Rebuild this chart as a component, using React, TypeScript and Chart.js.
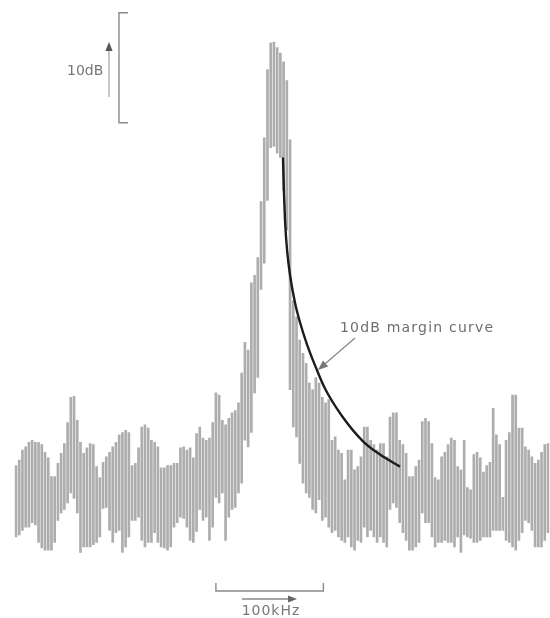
import React, { useEffect, useRef } from 'react';
import { Chart, registerables } from 'chart.js';

Chart.register(...registerables);

// Spectrum display: each vertical trace line spans [minLevel, maxLevel] in dB (0 dB = peak top)
const FREQ_STEP_KHZ = 3;
const PEAK_INDEX = 80;

const maxLevel = [
  -38.5, -38.0, -37.1, -36.8, -36.4, -36.2, -36.4, -36.4, -36.6, -37.3,
  -37.8, -39.5, -39.5, -38.3, -37.4, -36.5, -34.6, -32.3, -32.2, -34.4,
  -36.4, -37.4, -36.9, -36.5, -36.6, -38.6, -39.6, -38.2, -37.7, -37.3,
  -36.8, -36.4, -35.7, -35.5, -35.3, -35.5, -38.5, -38.3, -36.9, -35.0,
  -34.8, -35.1, -36.2, -36.4, -36.8, -38.7, -38.7, -38.5, -38.5, -38.3,
  -38.3, -36.9, -36.8, -37.1, -36.9, -37.8, -35.6, -35.0, -36.0, -36.2,
  -36.0, -34.6, -31.9, -32.1, -34.4, -34.8, -34.2, -33.7, -33.5, -32.8,
  -30.1, -27.3, -28.0, -21.9, -21.2, -19.6, -14.5, -8.7, -2.5, -0.1,
  0.0, -0.5, -1.0, -1.8, -3.5, -8.9, -23.5, -25.0, -27.1, -28.3,
  -29.2, -31.0, -31.6, -30.5, -31.0, -32.3, -32.8, -32.5, -36.2, -35.9,
  -37.1, -37.4, -39.8, -37.1, -37.1, -38.9, -38.6, -37.7, -35.0, -35.0,
  -36.2, -36.6, -37.1, -36.5, -36.5, -37.7, -34.1, -33.7, -33.7, -36.2,
  -36.6, -37.4, -39.5, -39.5, -38.6, -38.0, -34.5, -34.2, -34.5, -36.5,
  -39.6, -39.8, -37.7, -37.3, -36.6, -36.0, -36.2, -38.6, -38.9, -36.2,
  -40.5, -40.7, -37.5, -37.3, -37.8, -39.1, -38.5, -38.2, -33.3, -35.7,
  -36.6, -41.4, -36.2, -35.5, -32.1, -32.1, -35.1, -35.1, -36.8, -37.1,
  -37.7, -38.3, -38.0, -37.3, -36.6, -36.5
];

const minLevel = [
  -45.0, -44.8, -44.4, -44.1, -44.1, -43.7, -43.9, -45.5, -46.0, -46.2,
  -46.2, -46.2, -45.5, -43.5, -42.8, -42.5, -41.9, -41.0, -41.5, -42.8,
  -46.4, -45.9, -45.9, -45.9, -45.7, -45.5, -45.0, -42.4, -42.3, -44.4,
  -45.5, -44.6, -44.4, -46.4, -45.9, -45.0, -43.5, -43.5, -43.2, -45.3,
  -45.9, -45.5, -45.5, -44.6, -45.5, -45.9, -46.0, -46.2, -45.9, -44.1,
  -43.7, -43.2, -43.3, -44.1, -45.3, -45.5, -44.5, -42.5, -43.5, -43.2,
  -45.3, -44.1, -41.4, -41.9, -41.0, -45.3, -43.2, -42.5, -42.3, -41.0,
  -40.1, -36.2, -36.8, -35.5, -31.9, -30.5, -22.5, -20.1, -14.4, -9.6,
  -9.5, -10.1, -10.5, -13.5, -17.1, -31.6, -35.0, -35.9, -38.3, -40.1,
  -41.0, -41.4, -42.5, -42.8, -41.6, -43.5, -43.2, -44.1, -44.6, -44.4,
  -45.0, -45.3, -45.5, -45.0, -45.9, -46.2, -45.3, -45.5, -44.1, -45.0,
  -44.4, -45.0, -45.5, -45.0, -45.5, -45.9, -42.5, -41.9, -42.3, -43.7,
  -44.6, -45.3, -46.2, -46.2, -45.9, -45.5, -42.8, -43.7, -43.7, -45.0,
  -45.9, -45.5, -45.5, -45.3, -45.5, -45.5, -45.9, -45.0, -46.4, -44.8,
  -45.0, -45.1, -45.5, -45.5, -45.3, -45.0, -45.0, -45.0, -44.4, -44.4,
  -44.4, -44.4, -45.3, -45.5, -45.9, -46.2, -45.3, -44.6, -43.5, -43.7,
  -44.4, -45.9, -45.9, -45.9, -45.3, -44.6
];

// frequency offset of each trace line (kHz from carrier), evenly stepped like category labels
const frequencies = maxLevel.map((_, i) => (i - PEAK_INDEX) * FREQ_STEP_KHZ);

// 10 dB margin curve
const marginFreq = [8.4, 9.4, 10.3, 12.2, 15.0, 19.6, 24.3, 30.8, 39.1, 47.5, 63.3, 82.9, 98.7, 117.3];
const marginLevel = [-10.5, -13.9, -16.2, -18.9, -21.2, -23.7, -25.5, -27.5, -29.6, -31.5, -34.0, -36.3, -37.5, -38.6];

const X_MIN_KHZ = -241.5;
const X_MAX_KHZ = 256.5;
const Y_MIN_DB = -52.36;
const Y_MAX_DB = 3.82;
const SCALE_BAR_TOP_DB = 2.66;
const SCALE_BAR_DB = 10;
const SPAN_START_KHZ = -54;
const SPAN_KHZ = 100;

function arrow(ctx: CanvasRenderingContext2D, x1: number, y1: number, x2: number, y2: number, color: string, head: number, lineColor?: string) {
  const ang = Math.atan2(y2 - y1, x2 - x1);
  ctx.save();
  ctx.strokeStyle = lineColor || color;
  ctx.lineWidth = 1.3;
  ctx.beginPath();
  ctx.moveTo(x1, y1);
  ctx.lineTo(x2 - Math.cos(ang) * head * 0.6, y2 - Math.sin(ang) * head * 0.6);
  ctx.stroke();
  ctx.fillStyle = color;
  ctx.beginPath();
  ctx.moveTo(x2, y2);
  ctx.lineTo(x2 - head * Math.cos(ang) + (head * 0.4) * Math.sin(ang), y2 - head * Math.sin(ang) - (head * 0.4) * Math.cos(ang));
  ctx.lineTo(x2 - head * Math.cos(ang) - (head * 0.4) * Math.sin(ang), y2 - head * Math.sin(ang) + (head * 0.4) * Math.cos(ang));
  ctx.closePath();
  ctx.fill();
  ctx.restore();
}

const annotations = {
  id: 'annotations',
  afterDraw(chart: any) {
    const ctx: CanvasRenderingContext2D = chart.ctx;
    const y = chart.scales.y;
    const x = chart.scales.x;
    ctx.save();
    // 10 dB scale bracket
    const yt = y.getPixelForValue(SCALE_BAR_TOP_DB);
    const yb = y.getPixelForValue(SCALE_BAR_TOP_DB - SCALE_BAR_DB);
    ctx.strokeStyle = '#8a8a8a';
    ctx.lineWidth = 1.4;
    ctx.beginPath();
    ctx.moveTo(128, yt);
    ctx.lineTo(119, yt);
    ctx.lineTo(119, yb);
    ctx.lineTo(128, yb);
    ctx.stroke();
    arrow(ctx, 109, 97, 109, 42, '#555', 9, '#aaa');
    ctx.fillStyle = '#777';
    ctx.font = '14px "DejaVu Sans"';
    ctx.textBaseline = 'middle';
    ctx.textAlign = 'left';
    ctx.fillText('10dB', 67, 71);

    // 100 kHz span bracket
    const xa = x.getPixelForValue(SPAN_START_KHZ);
    const xb = x.getPixelForValue(SPAN_START_KHZ + SPAN_KHZ);
    ctx.strokeStyle = '#8a8a8a';
    ctx.beginPath();
    ctx.moveTo(xa, 583);
    ctx.lineTo(xa, 591);
    ctx.lineTo(xb, 591);
    ctx.lineTo(xb, 583);
    ctx.stroke();
    arrow(ctx, 242, 599, 297, 599, '#666', 9, '#888');
    ctx.fillStyle = '#777';
    (ctx as any).letterSpacing = '1px';
    ctx.textAlign = 'center';
    ctx.fillText('100kHz', 271, 611);

    // margin curve label
    (ctx as any).letterSpacing = '1.2px';
    ctx.textAlign = 'left';
    ctx.fillStyle = '#6e6e6e';
    ctx.fillText('10dB margin curve', 340, 328);
    (ctx as any).letterSpacing = '0px';
    arrow(ctx, 355, 338, 318, 370, '#777', 10, '#888');
    ctx.restore();
  }
};

export default function App() {
  const ref = useRef<HTMLCanvasElement | null>(null);
  useEffect(() => {
    if (!ref.current) return;
    const chart = new Chart(ref.current, {
      type: 'bar',
      data: {
        datasets: [
          {
            type: 'line',
            label: '10dB margin curve',
            data: marginFreq.map((f, i) => ({ x: f, y: marginLevel[i] })),
            borderColor: '#1c1c1c',
            borderWidth: 2.4,
            pointRadius: 0,
            cubicInterpolationMode: 'monotone',
            order: 1,
          } as any,
          {
            type: 'bar',
            label: 'spectrum',
            data: frequencies.map((f, i) => ({ x: f, y: [minLevel[i], maxLevel[i]] })),
            backgroundColor: '#adadad',
            borderWidth: 0,
            borderSkipped: false,
            barThickness: 2,
            grouped: false,
            order: 2,
          } as any,
        ],
      },
      options: {
        animation: false,
        responsive: true,
        maintainAspectRatio: false,
        layout: { padding: { left: 14.39, right: 0.4, top: 0, bottom: 0 } },
        plugins: { legend: { display: false }, tooltip: { enabled: false } },
        scales: {
          x: { type: 'linear', display: false, offset: false, bounds: 'data', min: X_MIN_KHZ, max: X_MAX_KHZ, grid: { display: false } },
          y: { type: 'linear', display: false, min: Y_MIN_DB, max: Y_MAX_DB },
        },
      },
      plugins: [annotations],
    });
    return () => chart.destroy();
  }, []);
  return (
    <div style={{ position: 'fixed', left: 0, top: 0, width: 550, height: 618, background: '#fff' }}>
      <canvas ref={ref} />
    </div>
  );
}
